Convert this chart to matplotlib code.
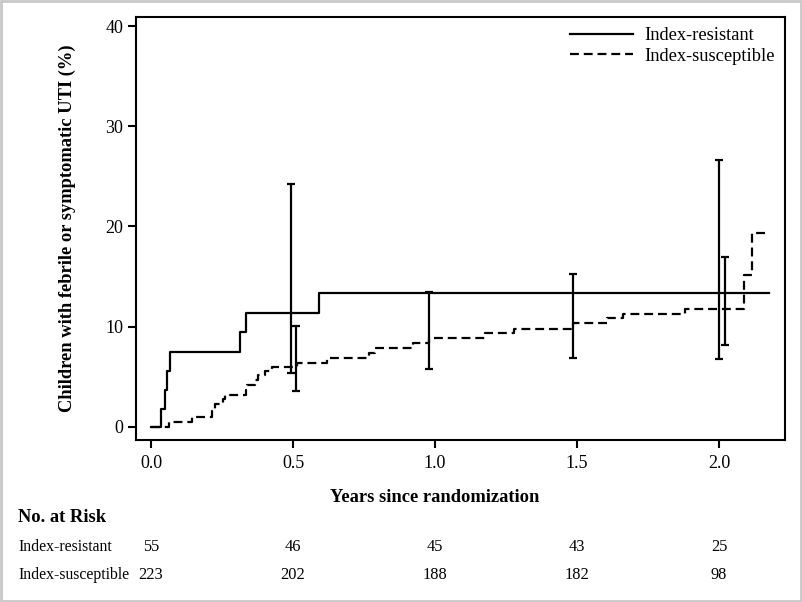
import matplotlib
matplotlib.use("Agg")
import matplotlib.pyplot as plt
import numpy as np
from matplotlib.patches import Rectangle
from matplotlib.transforms import blended_transform_factory

plt.rcParams['font.family'] = ['Liberation Serif', 'DejaVu Serif']

# ---- data ----
res_t = [0.0, 0.034, 0.049, 0.055, 0.067, 0.313, 0.335, 0.593, 2.174]
res_y = [0.0, 1.8, 3.7, 5.6, 7.5, 9.5, 11.4, 13.4, 13.4]

sus_t = [0.0, 0.064, 0.143, 0.214, 0.225, 0.254, 0.261, 0.335, 0.339, 0.366, 0.378,
         0.401, 0.425, 0.513, 0.619, 0.769, 0.789, 0.921, 0.979, 1.176, 1.279,
         1.486, 1.605, 1.663, 1.880, 2.089, 2.117, 2.168]
sus_y = [0.0, 0.45, 0.95, 1.6, 2.3, 2.8, 3.15, 3.65, 4.15, 4.7, 5.2,
         5.55, 5.95, 6.4, 6.9, 7.4, 7.9, 8.4, 8.85, 9.35, 9.8,
         10.35, 10.85, 11.3, 11.8, 15.2, 19.4, 19.4]

res_ci_x = [0.492, 1.998]
res_ci_lo = [5.4, 6.8]
res_ci_hi = [24.2, 26.6]

sus_ci_x = [0.511, 0.979, 1.486, 2.019]
sus_ci_lo = [3.6, 5.8, 6.9, 8.2]
sus_ci_hi = [10.1, 13.5, 15.3, 17.0]

risk_times = [0.0, 0.5, 1.0, 1.5, 2.0]
risk_labels = ["Index-resistant", "Index-susceptible"]
risk_res = [55, 46, 45, 43, 25]
risk_sus = [223, 202, 188, 182, 98]

xticks = [0.0, 0.5, 1.0, 1.5, 2.0]
xticklabels = ["0.0", "0.5", "1.0", "1.5", "2.0"]
yticks = [0, 10, 20, 30, 40]

# ---- figure ----
W, H = 802, 602
fig = plt.figure(figsize=(W / 100, H / 100), dpi=100)
ax = fig.add_axes([136 / W, 1 - 440 / H, (785 - 136) / W, (440 - 17) / H])

ax.step(res_t, res_y, where='post', color='black', lw=1.6, label='Index-resistant')
ax.step(sus_t, sus_y, where='post', color='black', lw=1.6, linestyle=(0, (4, 2.2)),
        label='Index-susceptible')


def ci(xs, lo, hi):
    lo = np.array(lo); hi = np.array(hi)
    mid = (lo + hi) / 2
    ax.errorbar(xs, mid, yerr=[mid - lo, hi - mid], fmt='none', ecolor='black',
                elinewidth=1.6, capsize=3.2, capthick=1.6)


ci(res_ci_x, res_ci_lo, res_ci_hi)
ci(sus_ci_x, sus_ci_lo, sus_ci_hi)

ax.set_xlim(-0.053, 2.232)
ax.set_ylim(-1.3, 40.9)
ax.set_xticks(xticks)
ax.set_xticklabels(xticklabels)
ax.set_yticks(yticks)
for s in ax.spines.values():
    s.set_linewidth(1.5)
ax.tick_params(direction='out', length=6, width=1.5, labelsize=13)
ax.tick_params(axis='x', pad=5)
ax.tick_params(axis='y', pad=3)

ax.set_ylabel("Children with febrile or symptomatic UTI (%)", fontsize=13.3,
              fontweight='bold', labelpad=21)

leg = ax.legend(loc='upper right', frameon=False, fontsize=13.3, handlelength=3.4,
                handletextpad=0.6, labelspacing=0.2, borderaxespad=0.15)

bt = blended_transform_factory(ax.transData, fig.transFigure)
fig.text(1.0, 1 - 497 / H, "Years since randomization", transform=bt,
         ha='center', va='center', fontsize=13.3, fontweight='bold')
fig.text(18 / W, 1 - 518 / H, "No. at Risk", ha='left', va='center',
         fontsize=13.3, fontweight='bold')

row_y = [547, 575]
for lab, vals, yy in zip(risk_labels, [risk_res, risk_sus], row_y):
    fig.text(18 / W, 1 - yy / H, lab, ha='left', va='center', fontsize=11.3)
    for t, v in zip(risk_times, vals):
        fig.text(t, 1 - yy / H, str(v), transform=bt, ha='center', va='center',
                 fontsize=11.8)

fig.patches.append(Rectangle((0.001, 0.001), 0.998, 0.997, transform=fig.transFigure,
                             fill=False, edgecolor='#c8c8c8', linewidth=2))

fig.savefig("out.png", dpi=100)
